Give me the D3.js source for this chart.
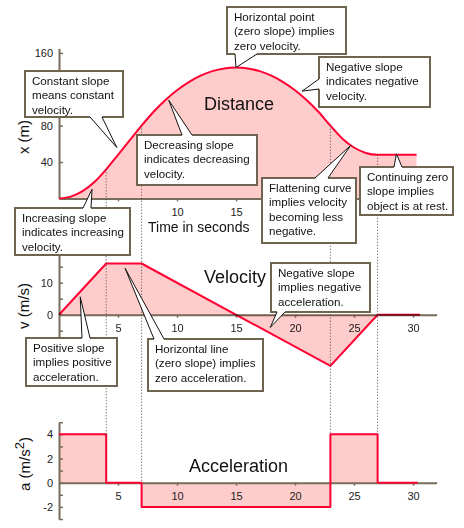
<!DOCTYPE html>
<html>
<head>
<meta charset="utf-8">
<script src="https://cdn.jsdelivr.net/npm/d3@7"></script>
<style>
  body { margin: 0; background: #fff; }
  svg { font-family: "Liberation Sans", Arial, Helvetica, sans-serif; }
  .axis path, .axis line { stroke: #776d5a; }
  .axis path { stroke-width: 2; }
  .axis line { stroke-width: 1.5; }
  .axis text { font-size: 11px; fill: #222; }
  .vel-axis { mix-blend-mode: multiply; }
  .note rect { fill: #fff; stroke: #6e6450; stroke-width: 2; }
  .note text { font-size: 11.6px; fill: #111; }
  .title { font-size: 18px; fill: #111; }
  .ytitle { font-size: 15px; fill: #111; }
</style>
</head>
<body>
<svg id="chart"></svg>
<script>
const W = 464, H = 528;

// Time axis
const timeTicks = [5, 10, 15, 20, 25, 30];
const timeLabels = [5, 10, 15, 20, 25, 30];
const distTimeLabels = [10, 15];   // the rest sit under the callouts

// Distance x(t), metres
const distTimes = [0, 1, 2, 3, 4, 5, 6, 7, 8, 9, 10, 11, 12, 13, 14, 15, 16, 17, 18, 19, 20,
  21, 22, 23, 24, 25, 26, 27, 28, 29, 30, 30.3];
const distValues = [0, 2, 8, 18, 32, 48, 64, 80, 95, 108, 119, 128, 135, 140, 143, 144, 143, 140, 135, 128, 119,
  108, 95, 80, 66, 56, 50, 48, 48, 48, 48, 48];
const distTicks = [40, 80, 120, 160];
const distLabels = [40, 80, 160];   // 120 is under a callout

// Velocity v(t), m/s, corners of the broken line
const velTimes = [0, 4, 7, 23, 27, 30.6];
const velValues = [0, 16, 16, -16, 0, 0];
const velTicks = [-5, 0, 5, 10, 15];
const velLabels = [0, 10];

// Acceleration a(t), m/s^2, steps
const accTimes = [0, 4, 7, 23, 27, 30.4];
const accValues = [4, 0, -2, 4, 0, 0];
const accTicks = [-3, -2, -1, 0, 1, 2, 3, 4, 5];
const accLabels = [-2, 0, 2, 4];

// Times where the motion changes
const markTimes = [4, 7, 23, 27];

// Callout texts and the data point each one points at
const noteTexts = [
  ['Horizontal point', '(zero slope) implies', 'zero velocity.'],
  ['Negative slope', 'indicates negative', 'velocity.'],
  ['Constant slope', 'means constant', 'velocity.'],
  ['Decreasing slope', 'indicates decreasing', 'velocity.'],
  ['Increasing slope', 'indicates increasing', 'velocity.'],
  ['Flattening curve', 'implies velocity', 'becoming less', 'negative.'],
  ['Continuing zero', 'slope implies', 'object is at rest.'],
  ['Negative slope', 'implies negative', 'acceleration.'],
  ['Positive slope', 'implies positive', 'acceleration.'],
  ['Horizontal line', '(zero slope) implies', 'zero acceleration.']
];
const notePanels = ['dist', 'dist', 'dist', 'dist', 'dist', 'dist', 'dist', 'vel', 'vel', 'vel'];
const noteTimes = [15, 20.6, 4.9, 9.3, 2.8, 24.7, 28.6, 17.9, 1.8, 5.6];
const noteValues = [144, 118, 56, 108, 10, 58, 49, -4, 5.6, 14.5];

const svg = d3.select('#chart').attr('width', W).attr('height', H);

const x = d3.scaleLinear().domain([0, 32]).range([59, 436.6]);
const yScales = {
  dist: d3.scaleLinear().domain([0, 165]).range([198.4, 48.4]),
  vel: d3.scaleLinear().domain([-7, 18.5]).range([337.1, 255.5]),
  acc: d3.scaleLinear().domain([-3, 5]).range([519, 422.2])
};

const FILL = '#ffcccc';
const RED = '#ff0033';

// ---------- Fills ----------
const dist = distTimes.map((t, i) => ({t, v: distValues[i]}));
const vel = velTimes.map((t, i) => ({t, v: velValues[i]}));
const acc = accTimes.map((t, i) => ({t, v: accValues[i]}));

function drawFill(data, y, curve) {
  svg.append('path')
    .datum(data)
    .attr('fill', FILL)
    .attr('d', d3.area().x(d => x(d.t)).y0(y(0)).y1(d => y(d.v)).curve(curve));
}
drawFill(dist, yScales.dist, d3.curveMonotoneX);
drawFill(vel, yScales.vel, d3.curveLinear);
drawFill(acc, yScales.acc, d3.curveStepAfter);

// ---------- Axes ----------
function drawAxes(y, ticks, labels, xLabels, cls) {
  const g = svg.append('g').attr('class', cls);
  g.append('g')
    .attr('class', 'axis')
    .attr('transform', `translate(0,${y(0)})`)
    .call(d3.axisBottom(x).tickValues(timeTicks).tickSize(3).tickSizeOuter(0).tickPadding(7)
      .tickFormat(d => xLabels.includes(d) ? d : ''));
  g.append('g')
    .attr('class', 'axis')
    .attr('transform', `translate(${x(0)},0)`)
    .call(d3.axisLeft(y).tickValues(ticks).tickSize(-4).tickSizeOuter(0).tickPadding(6)
      .tickFormat(d => labels.includes(d) ? d : ''));
  return g;
}

function drawLine(data, y, curve) {
  svg.append('path')
    .datum(data)
    .attr('fill', 'none')
    .attr('stroke', RED)
    .attr('stroke-width', 2)
    .attr('stroke-linejoin', 'round')
    .attr('d', d3.line().x(d => x(d.t)).y(d => y(d.v)).curve(curve));
}

drawAxes(yScales.dist, distTicks, distLabels, distTimeLabels, 'dist-axis');
drawLine(dist, yScales.dist, d3.curveMonotoneX);

drawLine(vel, yScales.vel, d3.curveLinear);
drawAxes(yScales.vel, velTicks, velLabels, timeLabels, 'vel-axis');

drawAxes(yScales.acc, accTicks, accLabels, timeLabels, 'acc-axis');
drawLine(acc, yScales.acc, d3.curveStepAfter);

// ---------- Dotted guides ----------
svg.append('g')
  .selectAll('line')
  .data(markTimes)
  .join('line')
  .attr('x1', t => x(t))
  .attr('x2', t => x(t))
  .attr('y1', t => yScales.dist(distValues[distTimes.indexOf(t)]))
  .attr('y2', t => {
    const i = accTimes.indexOf(t);
    return yScales.acc(Math.max(accValues[i - 1], accValues[i]));
  })
  .attr('stroke', '#444')
  .attr('stroke-width', 1)
  .attr('stroke-dasharray', '1,2');

// ---------- Titles ----------
svg.append('text').attr('class', 'title').attr('x', 204).attr('y', 110).text('Distance');
svg.append('text').attr('class', 'title').attr('x', 204).attr('y', 283).text('Velocity');
svg.append('text').attr('class', 'title').attr('x', 189).attr('y', 472).text('Acceleration');
svg.append('text').attr('x', 148).attr('y', 231.5).style('font-size', '14px').attr('fill', '#111')
  .text('Time in seconds');

svg.append('text').attr('class', 'ytitle').attr('text-anchor', 'middle')
  .attr('transform', 'translate(29,137) rotate(-90)').text('x (m)');
svg.append('text').attr('class', 'ytitle').attr('text-anchor', 'middle')
  .attr('transform', 'translate(29,306) rotate(-90)').text('v (m/s)');
const aTitle = svg.append('text').attr('class', 'ytitle').attr('text-anchor', 'middle')
  .attr('transform', 'translate(30,464) rotate(-90)');
aTitle.append('tspan').text('a (m/s');
aTitle.append('tspan').attr('dy', -6).style('font-size', '13px').text('2');
aTitle.append('tspan').attr('dy', 6).text(')');

// ---------- Callouts ----------
// box: [left, top, width, height]; base: two offsets along the side the pointer leaves from
const noteLayout = [
  {box: [227, 7, 119, 47], side: 'bottom', base: [8, 30]},
  {box: [319, 57, 111, 50], side: 'left', base: [22, 32]},
  {box: [25, 71, 98, 46], side: 'bottom', base: [65, 77]},
  {box: [137, 135, 120, 50], side: 'top', base: [45, 55]},
  {box: [15, 208, 115, 47], side: 'top', base: [68, 76]},
  {box: [262, 178, 94, 65], side: 'top', base: [53, 66]},
  {box: [360, 167, 93, 48], side: 'top', base: [34, 42]},
  {box: [271, 263, 99, 49], side: 'bottom', base: [6, 14]},
  {box: [26, 338, 91, 48], side: 'top', base: [56, 64]},
  {box: [148, 339, 115, 52], side: 'top', base: [6, 16]}
];

noteTexts.forEach((lines, i) => {
  const L = noteLayout[i];
  const [bx, by, bw, bh] = L.box;
  const y = yScales[notePanels[i]];
  const tip = [x(noteTimes[i]), y(noteValues[i])];
  let b1, b2, in1, in2;
  if (L.side === 'bottom') {
    b1 = [bx + L.base[0], by + bh]; b2 = [bx + L.base[1], by + bh];
    in1 = [b1[0], b1[1] - 2]; in2 = [b2[0], b2[1] - 2];
  } else if (L.side === 'top') {
    b1 = [bx + L.base[0], by]; b2 = [bx + L.base[1], by];
    in1 = [b1[0], b1[1] + 2]; in2 = [b2[0], b2[1] + 2];
  } else {
    b1 = [bx, by + L.base[0]]; b2 = [bx, by + L.base[1]];
    in1 = [b1[0] + 2, b1[1]]; in2 = [b2[0] + 2, b2[1]];
  }

  const g = svg.append('g').attr('class', 'note');
  g.append('rect').attr('x', bx).attr('y', by).attr('width', bw).attr('height', bh);
  g.append('polygon')
    .attr('points', [in1, b1, tip, b2, in2].map(p => p.join(',')).join(' '))
    .attr('fill', '#fff');
  g.append('path')
    .attr('d', `M${b1}L${tip}L${b2}`)
    .attr('fill', 'none')
    .attr('stroke', '#111')
    .attr('stroke-width', 1);
  g.selectAll('text')
    .data(lines)
    .join('text')
    .attr('x', bx + 7)
    .attr('y', (d, j) => by + 13.5 + j * 14.5)
    .text(d => d);
});
</script>
</body>
</html>
